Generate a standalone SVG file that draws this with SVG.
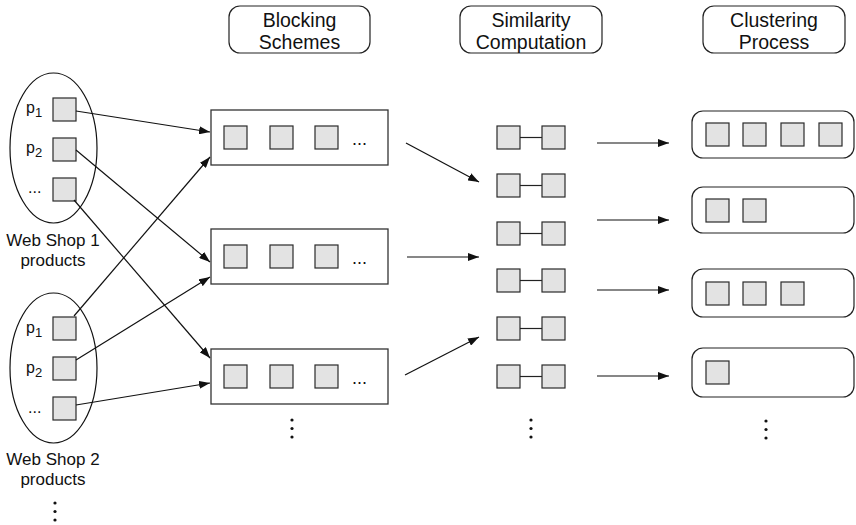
<svg xmlns="http://www.w3.org/2000/svg" width="856" height="525" viewBox="0 0 856 525">
  <style>
    .hdr { fill: #fff; stroke: #222; stroke-width: 1.2; }
    .box { fill: #fff; stroke: #333; stroke-width: 1.3; }
    .item { fill: #e3e3e3; stroke: #2a2a2a; stroke-width: 1.2; }
    .shop { fill: none; stroke: #111; stroke-width: 1.2; }
    .link { stroke: #222; stroke-width: 1.2; }
    .edge { stroke: #111; stroke-width: 1.2; fill: none; marker-end: url(#arrow); }
    .dot { fill: #111; }
    text { font-family: "Liberation Sans", Arial, sans-serif; fill: #111; }
    .h { font-size: 19.5px; text-anchor: middle; }
    .lbl { font-size: 17px; text-anchor: middle; }
    .p { font-size: 16px; }
    .ell { font-size: 18px; }
  </style>
  <defs>
    <marker id="arrow" markerUnits="userSpaceOnUse" markerWidth="11" markerHeight="8" refX="11" refY="4" orient="auto">
      <path d="M0,0 L11,4 L0,8 z" fill="#111"/>
    </marker>
    <rect id="sq" class="item" width="23" height="23"/>
    <g id="vdots">
      <circle class="dot" cx="0" cy="0" r="1.6"/>
      <circle class="dot" cx="0" cy="8.5" r="1.6"/>
      <circle class="dot" cx="0" cy="17" r="1.6"/>
    </g>
    <g id="pair">
      <use href="#sq" x="0" y="0"/>
      <line class="link" x1="23" y1="11.5" x2="45" y2="11.5"/>
      <use href="#sq" x="45" y="0"/>
    </g>
  </defs>

  <!-- stage headers -->
  <g id="hdr-blocking">
    <rect class="hdr" x="229" y="6" width="141" height="47" rx="11"/>
    <text class="h" x="299.5" y="27">Blocking</text>
    <text class="h" x="299.5" y="49">Schemes</text>
  </g>
  <g id="hdr-similarity">
    <rect class="hdr" x="460" y="6" width="142" height="47" rx="11"/>
    <text class="h" x="531" y="27">Similarity</text>
    <text class="h" x="531" y="49">Computation</text>
  </g>
  <g id="hdr-clustering">
    <rect class="hdr" x="703" y="6" width="142" height="47" rx="11"/>
    <text class="h" x="774" y="27">Clustering</text>
    <text class="h" x="774" y="49">Process</text>
  </g>

  <!-- web shop 1 -->
  <g id="shop1">
    <ellipse class="shop" cx="53.5" cy="148" rx="43.5" ry="75"/>
    <text class="p" x="26" y="113">p<tspan font-size="13" dy="4">1</tspan></text>
    <use href="#sq" x="53" y="98"/>
    <text class="p" x="26" y="153">p<tspan font-size="13" dy="4">2</tspan></text>
    <use href="#sq" x="53" y="138"/>
    <text class="p" x="28" y="193">...</text>
    <use href="#sq" x="53" y="178"/>
    <text class="lbl" x="53" y="246">Web Shop 1</text>
    <text class="lbl" x="53" y="266">products</text>
  </g>

  <!-- web shop 2 -->
  <g id="shop2">
    <ellipse class="shop" cx="53.5" cy="368" rx="43.5" ry="75"/>
    <text class="p" x="26" y="333">p<tspan font-size="13" dy="4">1</tspan></text>
    <use href="#sq" x="53" y="317"/>
    <text class="p" x="26" y="373">p<tspan font-size="13" dy="4">2</tspan></text>
    <use href="#sq" x="53" y="357"/>
    <text class="p" x="28" y="413">...</text>
    <use href="#sq" x="53" y="397"/>
    <text class="lbl" x="53" y="465">Web Shop 2</text>
    <text class="lbl" x="53" y="485">products</text>
    <use href="#vdots" x="55" y="503"/>
  </g>

  <!-- blocks -->
  <g id="block1">
    <rect class="box" x="211" y="110" width="177" height="55"/>
    <use href="#sq" x="224" y="126"/>
    <use href="#sq" x="270" y="126"/>
    <use href="#sq" x="315" y="126"/>
    <text class="ell" x="352" y="145">...</text>
  </g>
  <g id="block2">
    <rect class="box" x="211" y="229" width="177" height="55"/>
    <use href="#sq" x="224" y="245"/>
    <use href="#sq" x="270" y="245"/>
    <use href="#sq" x="315" y="245"/>
    <text class="ell" x="352" y="264">...</text>
  </g>
  <g id="block3">
    <rect class="box" x="211" y="349" width="177" height="55"/>
    <use href="#sq" x="224" y="365"/>
    <use href="#sq" x="270" y="365"/>
    <use href="#sq" x="315" y="365"/>
    <text class="ell" x="352" y="384">...</text>
  </g>
  <use href="#vdots" x="292" y="420"/>

  <!-- compared pairs -->
  <g id="pairs">
    <use href="#pair" x="497" y="126"/>
    <use href="#pair" x="497" y="174"/>
    <use href="#pair" x="497" y="222"/>
    <use href="#pair" x="497" y="269"/>
    <use href="#pair" x="497" y="317"/>
    <use href="#pair" x="497" y="365"/>
    <use href="#vdots" x="531" y="420"/>
  </g>

  <!-- clusters -->
  <g id="cluster1">
    <rect class="hdr" x="692" y="111" width="162" height="47" rx="11"/>
    <use href="#sq" x="706" y="123"/>
    <use href="#sq" x="743" y="123"/>
    <use href="#sq" x="781" y="123"/>
    <use href="#sq" x="819" y="123"/>
  </g>
  <g id="cluster2">
    <rect class="hdr" x="692" y="187" width="162" height="46" rx="11"/>
    <use href="#sq" x="706" y="199"/>
    <use href="#sq" x="743" y="199"/>
  </g>
  <g id="cluster3">
    <rect class="hdr" x="692" y="269" width="162" height="48" rx="11"/>
    <use href="#sq" x="706" y="282"/>
    <use href="#sq" x="743" y="282"/>
    <use href="#sq" x="781" y="282"/>
  </g>
  <g id="cluster4">
    <rect class="hdr" x="692" y="348" width="162" height="49" rx="11"/>
    <use href="#sq" x="706" y="361"/>
  </g>
  <use href="#vdots" x="766" y="421"/>

  <!-- connectors -->
  <g id="connectors">
    <line class="edge" x1="76" y1="111" x2="210" y2="132"/>
    <line class="edge" x1="76" y1="150" x2="210" y2="262"/>
    <line class="edge" x1="74" y1="200" x2="210" y2="358"/>
    <line class="edge" x1="74" y1="316" x2="210" y2="157"/>
    <line class="edge" x1="76" y1="360" x2="210" y2="277"/>
    <line class="edge" x1="76" y1="405" x2="210" y2="383"/>

    <line class="edge" x1="406" y1="143" x2="479" y2="182"/>
    <line class="edge" x1="407" y1="257" x2="479" y2="257"/>
    <line class="edge" x1="405" y1="375" x2="479" y2="337"/>

    <line class="edge" x1="597" y1="143" x2="669" y2="143"/>
    <line class="edge" x1="597" y1="220" x2="669" y2="220"/>
    <line class="edge" x1="597" y1="290" x2="669" y2="290"/>
    <line class="edge" x1="597" y1="376" x2="669" y2="376"/>
  </g>
</svg>
